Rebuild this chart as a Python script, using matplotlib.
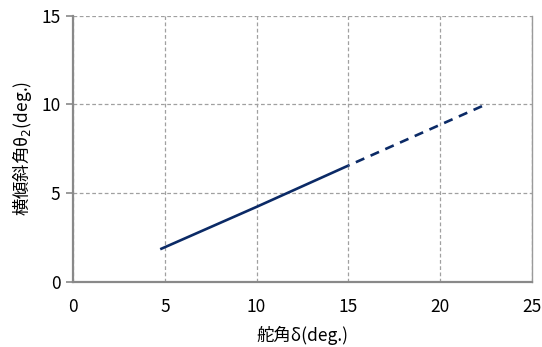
import matplotlib
matplotlib.use("Agg")
import matplotlib.pyplot as plt

plt.rcParams['font.family'] = ['Noto Sans CJK JP', 'DejaVu Sans']

# data
solid_x = [4.75, 10.0, 15.0]
solid_y = [1.83, 4.22, 6.55]
dash_x = [15.0, 20.0, 22.5]
dash_y = [6.55, 8.85, 10.0]
xticks = [0, 5, 10, 15, 20, 25]
yticks = [0, 5, 10, 15]

fig = plt.figure(figsize=(5.42, 3.47), dpi=100)
ax = fig.add_axes([0.1347, 0.1882, 0.8468, 0.7666])

line_color = '#0b2a66'
ax.plot(solid_x, solid_y, color=line_color, lw=1.9, solid_capstyle='butt', zorder=3)
ax.plot(dash_x, dash_y, color=line_color, lw=1.9, linestyle=(3.0, (3.5, 2.6)), zorder=3)

ax.set_xlim(0, 25)
ax.set_ylim(0, 15)
ax.set_xticks(xticks)
ax.set_yticks(yticks)

ax.grid(True, color='#a0a0a0', linestyle=(0, (3, 2)), linewidth=0.9)
ax.set_axisbelow(True)

for s in ['left', 'bottom']:
    ax.spines[s].set_color('#898989')
    ax.spines[s].set_linewidth(1.6)
ax.spines['right'].set_color('#9a9a9a')
ax.spines['right'].set_linewidth(1.0)
ax.spines['top'].set_visible(False)

ax.tick_params(axis='y', length=5, width=1.2, color='#898989', labelsize=12.5, pad=4)
ax.tick_params(axis='x', length=0, labelsize=12.5, pad=12)

ax.set_xlabel('舵角δ(deg.)', fontsize=12.5, labelpad=7)
ax.set_ylabel('横傾斜角θ$_2$(deg.)', fontsize=12.5, labelpad=5)

fig.savefig('out.png', dpi=100)
